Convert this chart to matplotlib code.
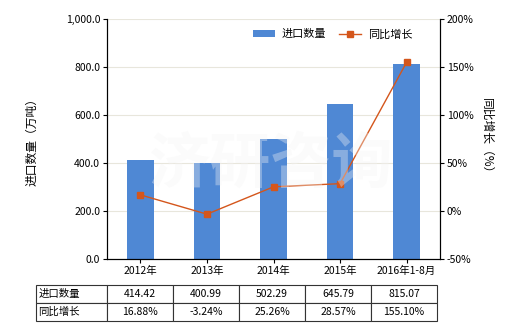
import matplotlib
matplotlib.use('Agg')
import matplotlib.pyplot as plt
import numpy as np

plt.rcParams['font.family'] = ['Noto Sans CJK SC', 'DejaVu Sans']
plt.rcParams['font.size'] = 7.5

# data
categories = ['2012年', '2013年', '2014年', '2015年', '2016年1-8月']
volume = [414.42, 400.99, 502.29, 645.79, 815.07]
growth = [16.88, -3.24, 25.26, 28.57, 155.10]
volume_labels = ['414.42', '400.99', '502.29', '645.79', '815.07']
growth_labels = ['16.88%', '-3.24%', '25.26%', '28.57%', '155.10%']
row_labels = ['进口数量', '同比增长']

bar_color = '#4f88d4'
line_color = '#d4561c'

fig = plt.figure(figsize=(5.2, 3.3), dpi=100)
ax = fig.add_axes([0.206, 0.215, 0.64, 0.727])
x = np.arange(len(categories))

ax.bar(x, volume, width=0.4, color=bar_color, label='进口数量', zorder=2)
ax.set_xlim(-0.5, len(categories) - 0.5)
ax.set_ylim(0, 1000)
ax.set_yticks(np.arange(0, 1001, 200))
ax.set_yticklabels(['{:,.1f}'.format(v) for v in np.arange(0, 1001, 200)])
ax.set_xticks(x)
ax.set_xticklabels(categories)
ax.grid(axis='y', color='#e8e6dc', linewidth=0.8, zorder=0)
ax.set_ylabel('进口数量（万吨）', fontsize=8.5, labelpad=20)
ax.spines['top'].set_visible(False)
ax.tick_params(length=3, width=0.8, pad=2)

ax2 = ax.twinx()
ax2.plot(x, growth, color=line_color, linewidth=1.0, marker='s', markersize=4,
         label='同比增长', zorder=3)
ax2.set_ylim(-50, 200)
ax2.set_yticks(np.arange(-50, 201, 50))
ax2.set_yticklabels(['{:d}%'.format(v) for v in np.arange(-50, 201, 50)])
ax2.set_ylabel('同比增长（%）', fontsize=8.5, rotation=270, labelpad=14)
ax2.spines['top'].set_visible(False)
ax2.tick_params(length=3, width=0.8, pad=2)

# watermark
fig.text(0.52, 0.50, '济研咨询', fontsize=44, color='#f4f4f4', alpha=0.35,
         ha='center', va='center', fontweight='bold', zorder=5)

h1, l1 = ax.get_legend_handles_labels()
h2, l2 = ax2.get_legend_handles_labels()
ax2.legend(h1 + h2, l1 + l2, loc='upper right', ncol=2, frameon=False,
           fontsize=8, bbox_to_anchor=(0.948, 1.0), handlelength=2.0,
           handletextpad=0.6, columnspacing=1.2)

# data table below the chart, label column included as first column
cells = [[row_labels[0]] + volume_labels, [row_labels[1]] + growth_labels]
label_w = 71 / 401
col_w = (1 - label_w) / len(categories)
tbl = ax.table(cellText=cells, cellLoc='center',
               colWidths=[label_w] + [col_w] * len(categories),
               bbox=[-0.213, -0.258, 1.204, 0.15])
tbl.auto_set_font_size(False)
tbl.set_fontsize(7.5)
for (r, c), cell in tbl.get_celld().items():
    cell.set_linewidth(0.8)
    cell.set_edgecolor('#333333')
    if c == 0:
        cell.get_text().set_ha('left')
        cell.PAD = 0.03

fig.savefig('out.png', dpi=100)
